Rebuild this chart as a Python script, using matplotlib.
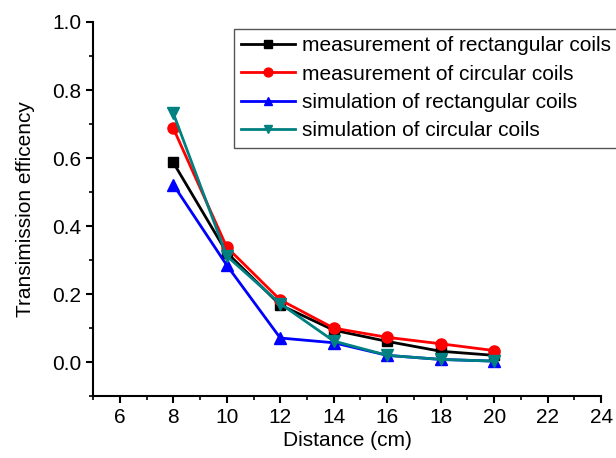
import matplotlib
matplotlib.use('Agg')
import matplotlib.pyplot as plt
from matplotlib.ticker import MultipleLocator

plt.rcParams['font.family'] = ['Liberation Sans', 'DejaVu Sans']

# Distance (cm)
distance = [8, 10, 12, 14, 16, 18, 20]

# Transmission efficiency
meas_rect = [0.587, 0.322, 0.168, 0.094, 0.061, 0.032, 0.020]
meas_circ = [0.688, 0.338, 0.183, 0.100, 0.073, 0.054, 0.034]
sim_rect = [0.522, 0.285, 0.071, 0.057, 0.020, 0.008, 0.003]
sim_circ = [0.732, 0.312, 0.172, 0.062, 0.020, 0.008, 0.003]

labels = ['measurement of rectangular coils', 'measurement of circular coils',
          'simulation of rectangular coils', 'simulation of circular coils']

fig = plt.figure(figsize=(6.16, 4.58), dpi=100)
ax = fig.add_axes([0.151, 0.135, 0.825, 0.817])

ax.plot(distance, meas_rect, color='black', marker='s', markersize=7, lw=2, label=labels[0])
ax.plot(distance, meas_circ, color='#ff0000', marker='o', markersize=8, lw=2, label=labels[1])
ax.plot(distance, sim_rect, color='#0000ff', marker='^', markersize=8, lw=2, label=labels[2])
ax.plot(distance, sim_circ, color='#008080', marker='v', markersize=8, lw=2, label=labels[3])

ax.set_xlim(5, 24)
ax.set_ylim(-0.1, 1.0)
ax.xaxis.set_minor_locator(MultipleLocator(1))
ax.yaxis.set_minor_locator(MultipleLocator(0.1))
ax.set_xticks([6, 8, 10, 12, 14, 16, 18, 20, 22, 24])
ax.set_yticks([0.0, 0.2, 0.4, 0.6, 0.8, 1.0])
ax.set_yticklabels(['0.0', '0.2', '0.4', '0.6', '0.8', '1.0'])

for side in ['top', 'right']:
    ax.spines[side].set_visible(False)
for side in ['left', 'bottom']:
    ax.spines[side].set_linewidth(1.5)

ax.tick_params(which='major', direction='out', length=5, width=1.5, labelsize=15)
ax.tick_params(which='minor', direction='out', length=3, width=1.2)

ax.set_xlabel('Distance (cm)', fontsize=15, labelpad=3)
ax.set_ylabel('Transimission efficency', fontsize=15, labelpad=12)

leg = ax.legend(loc='upper left', bbox_to_anchor=(234 / 616, 1 - 29 / 458),
                bbox_transform=fig.transFigure, borderaxespad=0, fontsize=15,
                fancybox=False, edgecolor='#555555', framealpha=1,
                handlelength=2.6, handletextpad=0.3, labelspacing=0.45,
                borderpad=0.35, markerscale=0.8)
leg.get_frame().set_linewidth(1.0)

fig.savefig('out.png', dpi=100)
